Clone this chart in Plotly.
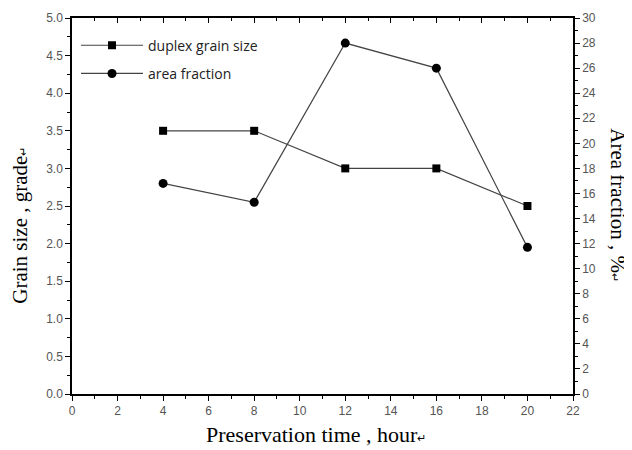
import plotly.graph_objects as go

time_h = [4, 8, 12, 16, 20]
grain_size = [3.5, 3.5, 3.0, 3.0, 2.5]
area_fraction = [16.8, 15.3, 28.0, 26.0, 11.7]

x_ticks = list(range(0, 23, 2))
left_ticks = [i * 0.5 for i in range(11)]
right_ticks = list(range(0, 31, 2))

tickfont = dict(family="Arial, Liberation Sans, sans-serif", size=12, color="#555555")

fig = go.Figure()
fig.add_trace(go.Scatter(
    x=time_h, y=grain_size, mode="lines+markers", name="duplex grain size",
    legendgroup="a",
    line=dict(color="#444444", width=1.2),
    marker=dict(symbol="square", size=8, color="black"),
    yaxis="y", xaxis="x"))
fig.add_trace(go.Scatter(
    x=time_h, y=area_fraction, mode="lines+markers", name="area fraction",
    legendgroup="b",
    line=dict(color="#444444", width=1.2),
    marker=dict(symbol="circle", size=9, color="black"),
    yaxis="y2", xaxis="x"))

minor_common = dict(ticklen=3, tickcolor="black", tickwidth=1, showgrid=False)

# page body adds an 8px offset; the figure is sized so the plot lands where the reference has it
fig.update_layout(
    width=624, height=442,
    margin=dict(l=64, r=59, t=10, b=56, autoexpand=False),
    paper_bgcolor="white", plot_bgcolor="white",
    showlegend=True,
    legend=dict(x=0.008, y=0.969, xanchor="left", yanchor="top",
                bgcolor="rgba(0,0,0,0)", borderwidth=0,
                font=dict(family="Open Sans, Noto Sans, sans-serif", size=14, color="#222"),
                itemwidth=62, tracegroupgap=7),
    xaxis=dict(range=[0, 22], tickvals=x_ticks, ticks="outside", ticklen=5,
               tickwidth=1.2, tickcolor="black", showline=True, linecolor="black",
               linewidth=1.5, showgrid=False, zeroline=False, tickfont=tickfont,
               automargin=False,
               minor=dict(dtick=1, ticks="outside", **minor_common)),
    xaxis2=dict(range=[0, 22], overlaying="x", side="top", tickvals=x_ticks,
                ticks="inside", ticklen=5, tickwidth=1.2, tickcolor="black",
                showline=True, linecolor="black", linewidth=1.5,
                showticklabels=False, showgrid=False, zeroline=False,
                automargin=False,
                minor=dict(dtick=1, ticks="inside", **minor_common)),
    yaxis=dict(range=[0, 5], tickvals=left_ticks, tickformat=".1f", ticks="outside",
               ticklen=5, tickwidth=1.2, tickcolor="black", showline=True,
               linecolor="black", linewidth=1.5, showgrid=False, zeroline=False,
               tickfont=tickfont, automargin=False,
               minor=dict(dtick=0.25, ticks="outside", **minor_common)),
    yaxis2=dict(range=[0, 30], tickvals=right_ticks, overlaying="y", side="right",
                ticks="outside", ticklen=5, tickwidth=1.2, tickcolor="black",
                showline=True, linecolor="black", linewidth=1.5, showgrid=False,
                zeroline=False, tickfont=tickfont, automargin=False,
                minor=dict(dtick=1, ticks="outside", **minor_common)),
)
# dummy trace to activate top axis
fig.add_trace(go.Scatter(x=[None], y=[None], xaxis="x2", yaxis="y", showlegend=False))

title_font = dict(family="Liberation Serif, Times New Roman, serif", size=22, color="black")
fig.add_annotation(text="Preservation time , hour<span style='font-size:11px'>↵</span>",
                   xref="paper", yref="paper", x=0.487, y=-0.109, yanchor="middle",
                   showarrow=False, font=title_font)
fig.add_annotation(text="Grain size , grade<span style='font-size:11px'>↵</span>",
                   xref="paper", yref="paper", x=-0.104, y=0.45, xanchor="center",
                   yanchor="middle", textangle=-90, showarrow=False,
                   font=dict(family="Liberation Serif, Times New Roman, serif", size=21, color="black"))
fig.add_annotation(text="Area fraction , %<span style='font-size:11px'>↵</span>",
                   xref="paper", yref="paper", x=1.091, y=0.503, xanchor="center",
                   yanchor="middle", textangle=90, showarrow=False,
                   font=dict(family="Liberation Serif, Times New Roman, serif", size=21, color="black"))

fig.write_html("out.html")
